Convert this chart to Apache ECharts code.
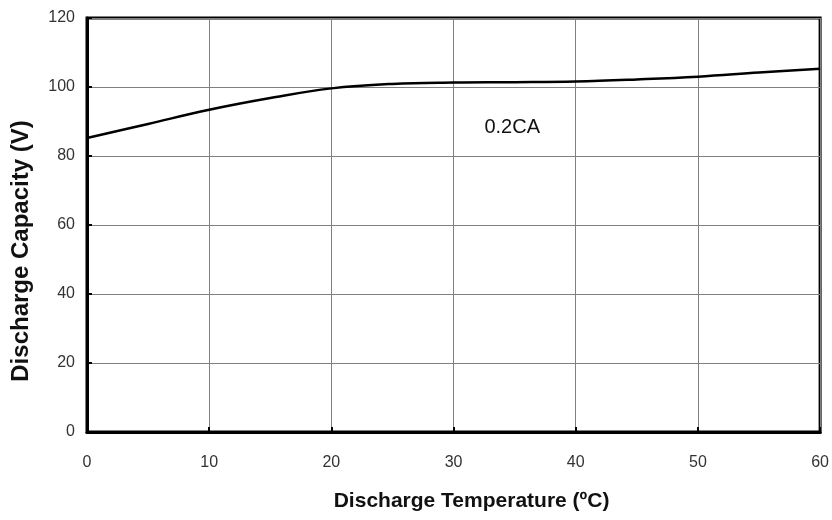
<!DOCTYPE html>
<html>
<head>
<meta charset="utf-8">
<script src="https://cdn.jsdelivr.net/npm/echarts@6/dist/echarts.min.js"></script>
<style>html,body{margin:0;padding:0;background:#fff}#c{width:832px;height:520px}</style>
</head>
<body>
<div id="c"></div>
<script>
var temperatures = [0, 5, 10, 15, 20, 25, 30, 35, 40, 45, 50, 55, 60];
var capacity = [85.2, 89.3, 93.4, 96.8, 99.6, 100.9, 101.3, 101.4, 101.6, 102.2, 103.0, 104.2, 105.3];
var xTicks = [0, 10, 20, 30, 40, 50, 60];
var yTicks = [0, 20, 40, 60, 80, 100, 120];
var seriesLabel = '0.2CA';
var xTitle = 'Discharge Temperature (ºC)';
var yTitle = 'Discharge Capacity (V)';

var sans = '"Liberation Sans", Arial, sans-serif';
var chart = echarts.init(document.getElementById('c'), null, {renderer: 'canvas'});
chart.setOption({
  animation: false,
  backgroundColor: '#fff',
  grid: {left: 87, right: 10, top: 18, bottom: 88, show: true, borderColor: '#000', borderWidth: 3, backgroundColor: 'transparent'},
  xAxis: {
    type: 'value', min: xTicks[0], max: xTicks[xTicks.length - 1], interval: 10,
    name: xTitle, nameLocation: 'middle', nameGap: 59,
    nameTextStyle: {fontFamily: sans, fontWeight: 'bold', fontSize: 21, color: '#111', padding: [0, 0, 0, 36]},
    axisLine: {show: true, lineStyle: {color: '#000', width: 3}},
    axisTick: {show: true, inside: true, length: 5, lineStyle: {color: '#000', width: 2}},
    axisLabel: {margin: 23, fontFamily: sans, fontSize: 16, color: '#333'},
    splitLine: {show: true, lineStyle: {color: '#808080', width: 1}}
  },
  yAxis: {
    type: 'value', min: yTicks[0], max: yTicks[yTicks.length - 1], interval: 20,
    name: yTitle, nameLocation: 'middle', nameGap: 54, nameRotate: 90,
    nameTextStyle: {fontFamily: sans, fontWeight: 'bold', fontSize: 24, color: '#111', padding: [0, 52, 0, 0]},
    axisLine: {show: true, lineStyle: {color: '#000', width: 3}},
    axisTick: {show: true, inside: true, length: 5, lineStyle: {color: '#000', width: 2}},
    axisLabel: {margin: 12, fontFamily: sans, fontSize: 16, color: '#333'},
    splitLine: {show: true, lineStyle: {color: '#808080', width: 1}}
  },
  series: [{
    type: 'line',
    data: temperatures.map(function (t, i) { return [t, capacity[i]]; }),
    smooth: 0.4,
    symbol: 'none',
    lineStyle: {color: '#000', width: 2.5},
    markPoint: {
      symbol: 'circle', symbolSize: 0,
      label: {show: true, position: 'inside', formatter: seriesLabel, fontFamily: sans, fontSize: 20, color: '#111'},
      data: [{coord: [34.8, 88.4]}]
    }
  }]
});
</script>
</body>
</html>
